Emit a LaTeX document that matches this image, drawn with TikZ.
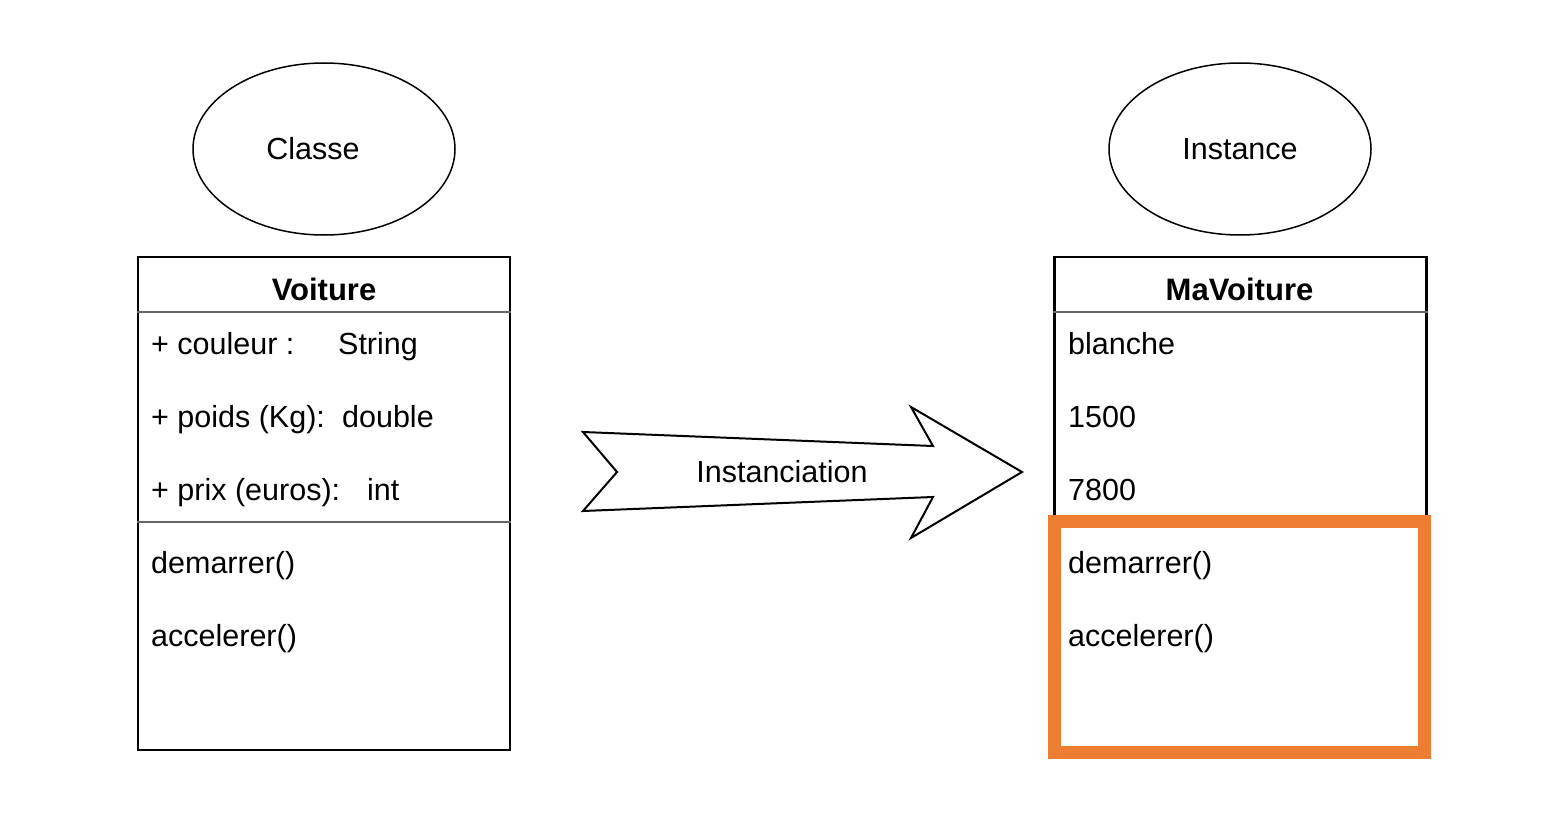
\documentclass[tikz,border=0pt]{standalone}
\usepackage{fontspec}
\setmainfont{Liberation Sans}
\usetikzlibrary{shapes.geometric}
\definecolor{orangebox}{HTML}{ED7D31}
\begin{document}
\begin{tikzpicture}[x=1pt,y=-1pt,
  ell/.style={draw=black, line width=1.5pt, ellipse, minimum width=262pt, minimum height=172pt, inner sep=0pt},
  lbl/.style={inner sep=0pt, font=\fontsize{30.5}{36}\selectfont},
  umlbox/.style={draw=black, line width=2.5pt, rectangle, inner sep=0pt, minimum width=372pt, minimum height=493pt},
  sepline/.style={draw=black!60, line width=2.5pt},
  txt/.style={anchor=base west, inner sep=0pt, font=\fontsize{30.5}{36}\selectfont},
  ttl/.style={anchor=base, inner sep=0pt, font=\fontsize{31}{36}\selectfont\bfseries},
]
\useasboundingbox[fill=white] (0,0) rectangle (1550,824);
% ellipses
\node[ell] (classe) at (324,149) {};
\node[lbl] (classelbl) at (313,149) {Classe};
\node[ell] (instance) at (1240,149) {};
\node[lbl] (instancelbl) at (1240,149) {Instance};
% boxes
\node[umlbox] (voiture) at (324,503.5) {};
\node[umlbox] (mavoiture) at (1240.5,503.5) {};
\coordinate (h1) at (0,312);
\coordinate (h2) at (0,522);
\draw[sepline] (voiture.west |- h1) -- (voiture.east |- h1);
\draw[sepline] (voiture.west |- h2) -- (voiture.east |- h2);
\draw[sepline] (mavoiture.west |- h1) -- (mavoiture.east |- h1);
% highlight
\node[draw=orangebox, fill=white, line width=13pt, minimum width=370pt, minimum height=231pt, inner sep=0pt] (hl) at (1239.5,637) {};
% titles
\node[ttl] (t1) at (324,300) {Voiture};
\node[ttl] (t2) at (1239.5,300) {MaVoiture};
% left texts
\node[txt] (a1) at (151,354) {\makebox[187pt][l]{+ couleur :}String};
\node[txt] (a2) at (151,427) {\makebox[191pt][l]{+ poids (Kg):}double};
\node[txt] (a3) at (151,500) {\makebox[216pt][l]{+ prix (euros):}int};
\node[txt] (m1) at (151,573) {demarrer()};
\node[txt] (m2) at (151,646) {accelerer()};
% right texts
\node[txt] (b1) at (1068,354) {blanche};
\node[txt] (b2) at (1068,427) {1500};
\node[txt] (b3) at (1068,500) {7800};
\node[txt] (n1) at (1068,573) {demarrer()};
\node[txt] (n2) at (1068,646) {accelerer()};
% arrow
\draw[line width=2pt, line join=miter] (583,432) -- (933,446) -- (911,407) -- (1022,472) -- (911,538) -- (933,497) -- (583,511) -- (617,472) -- cycle;
\node[anchor=base, inner sep=0pt, font=\fontsize{30.5}{36}\selectfont] (inst) at (782,482) {Instanciation};
\end{tikzpicture}
\end{document}
